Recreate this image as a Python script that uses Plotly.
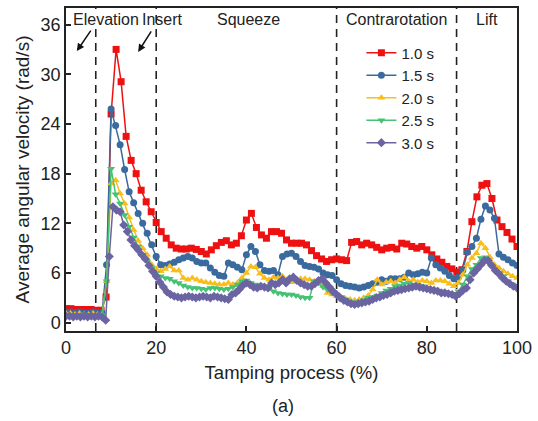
import numpy as np
import plotly.graph_objects as go

# ---- data ----
series_names = ["1.0 s", "1.5 s", "2.0 s", "2.5 s", "3.0 s"]

y_10 = [1.7, 1.7, 1.6, 1.6, 1.6, 1.6, 1.5, 1.5,
        3.1, 25.2, 33.0, 29.1, 22.5, 19.6, 18.0, 16.0, 14.6, 13.4, 12.1, 11.0,
        10.2, 9.4, 9.0, 8.9, 8.9, 9.0, 8.85, 8.6, 8.3, 8.8,
        9.3, 9.7, 9.9, 9.4, 9.6, 10.5, 12.4, 13.2, 11.5, 10.6,
        10.2, 11.0, 11.0, 10.8, 10.0, 9.6, 9.6, 9.6, 9.4, 8.7,
        8.1, 7.7, 7.4, 7.6, 7.7, 7.6, 7.5, 9.7, 9.8, 9.4,
        9.6, 9.4, 9.1, 8.8, 9.0, 9.1, 8.9, 9.6, 9.5, 9.2,
        9.0, 9.2, 8.8, 8.2, 7.7, 7.3, 6.8, 6.5, 6.1, 6.4,
        8.6, 12.2, 15.2, 16.6, 16.8, 15.0, 12.4, 11.6, 10.9, 10.1, 9.2]

y_15 = [1.3, 1.3, 1.2, 1.3, 1.2, 1.2, 1.3, 1.2, 1.2,
        7.0, 25.8, 23.8, 21.5, 18.5, 15.8, 14.5, 13.2, 12.0, 10.8, 9.4,
        8.0, 7.0, 6.9, 7.1, 7.3, 7.6, 7.8, 8.0, 7.8, 7.4,
        7.2, 7.2, 6.6, 6.1, 5.7, 5.6, 7.2, 7.0, 6.7, 6.4,
        8.2, 9.2, 8.6, 7.0, 6.3, 6.2, 6.3, 5.8, 8.0, 8.3,
        8.4, 8.0, 7.4, 6.9, 6.8, 6.7, 6.5, 6.0, 5.8, 5.7,
        5.2, 4.7, 4.5, 4.4, 4.3, 4.2, 4.3, 4.5, 4.7, 4.9,
        5.2, 5.0, 5.3, 5.3, 5.3, 5.5, 6.0, 5.8, 5.9, 6.1,
        6.0, 7.8, 7.0, 6.6, 6.2, 5.7, 5.3, 5.5, 6.4, 8.5,
        9.2, 10.2, 12.5, 14.1, 13.6, 12.6, 8.3, 7.9, 7.6, 7.2, 6.9]

y_20 = [1.1, 1.1, 1.0, 1.1, 1.0, 1.0, 1.1, 1.0, 1.0,
        5.0, 16.8, 17.2, 15.6, 14.4, 12.7, 11.2, 9.9, 9.0, 8.2, 7.0,
        6.5, 6.2, 6.5, 6.8, 6.3, 6.3, 5.4, 5.2, 5.4, 5.2,
        5.0, 4.9, 4.8, 4.7, 4.6, 4.6, 4.8, 4.6, 4.8, 5.4,
        6.0, 6.8, 6.7, 5.9, 5.4, 5.2, 5.5, 5.4, 5.6, 5.2,
        4.9, 5.0, 5.3, 5.3, 5.2, 5.0, 5.1, 4.4, 3.6, 3.4,
        3.2, 3.0, 2.9, 2.8, 2.7, 2.8, 3.0, 3.3, 4.0, 5.2,
        4.6, 4.9, 5.0, 4.8, 5.2, 5.5, 5.0, 5.2, 4.9, 5.1,
        5.0, 4.8, 5.1, 5.1, 5.0, 4.7, 4.4, 4.8, 5.8, 7.0,
        7.8, 8.4, 9.6, 9.0, 7.9, 7.0, 6.6, 6.2, 5.9, 5.6, 5.4]

y_25 = [0.9, 0.9, 0.9, 0.9, 0.9, 0.9, 0.9, 0.9, 0.9,
        5.0, 18.6, 15.5, 14.4, 13.0, 11.6, 10.3, 9.2, 8.2, 7.4, 6.6,
        6.0, 5.6, 5.4, 5.3, 5.0, 4.8, 4.5, 4.3, 4.2, 4.2,
        4.1, 4.0, 4.2, 4.2, 4.1, 4.0, 4.1, 4.3, 4.6, 5.0,
        5.1, 4.8, 4.6, 4.5, 4.4, 4.2, 3.8, 3.6, 3.5, 3.4,
        3.4, 3.3, 3.1, 3.0, 3.0, 5.0, 4.8, 4.3, 4.0, 3.6,
        3.4, 3.1, 2.8, 2.5, 2.4, 2.5, 2.7, 3.0, 3.1, 3.3,
        3.6, 3.9, 4.1, 4.4, 4.5, 4.7, 4.8, 4.6, 4.5, 4.4,
        4.2, 4.1, 4.0, 3.8, 3.7, 3.6, 3.5, 3.8, 4.6, 5.6,
        6.5, 7.0, 7.8, 7.9, 7.0, 6.5, 6.0, 5.6, 5.0, 4.6, 4.3]

y_30 = [0.8, 0.8, 0.7, 0.8, 0.7, 0.8, 0.7, 0.8, 0.7, 0.8,
        0.7, 0.3, 8.0, 14.0, 13.6, 13.4, 11.8, 11.0, 10.0, 9.3,
        8.8, 8.2, 7.7, 6.9, 6.2, 5.6, 4.9, 4.3, 3.7, 3.4,
        3.2, 3.1, 3.0, 3.1, 3.2, 3.1, 3.0, 3.1, 3.2, 3.1,
        3.0, 3.2, 3.1, 3.0, 2.9, 2.8, 3.4, 3.6, 4.0, 4.5,
        4.8, 4.6, 4.3, 4.2, 4.4, 4.3, 4.2, 4.8, 4.6, 4.8,
        5.2, 4.8, 5.3, 5.5, 5.1, 4.8, 4.6, 4.4, 4.4, 4.7,
        5.1, 5.3, 4.8, 4.3, 3.8, 3.4, 3.0, 2.7, 2.5, 2.3,
        2.2, 2.3, 2.4, 2.5, 2.6, 2.8, 3.0, 3.1, 3.3, 3.4,
        3.6, 3.8, 3.9, 4.0, 4.1, 4.2, 4.3, 4.4, 4.3, 4.2,
        4.1, 4.0, 3.9, 3.8, 3.6, 3.6, 3.5, 3.4, 3.2, 3.5,
        3.9, 4.2, 5.2, 6.0, 6.5, 7.0, 7.5, 7.5, 6.9, 6.3,
        5.9, 5.4, 5.0, 4.7, 4.4, 4.2]

all_values = [y_10, y_15, y_20, y_25, y_30]

phase_bounds = [6.6, 20, 60, 86.6]
phase_labels = ["Elevation", "Insert", "Squeeze", "Contrarotation", "Lift"]
phase_label_x = [8.9, 21.3, 40.4, 73.2, 93.3]
x_ticks = [0, 20, 40, 60, 80, 100]
y_ticks = [0, 6, 12, 18, 24, 30, 36]

# ---- styles ----
colors = ["#EE1111", "#3A6A9E", "#F7BE1E", "#45C274", "#6A64A2"]
symbols = ["square", "circle", "triangle-up", "triangle-down", "diamond"]
msizes = [7, 7, 7, 7, 7]
FONT = "Liberation Sans, Arial, sans-serif"

fig = go.Figure()
for name, vals, c, s, ms in zip(series_names, all_values, colors, symbols, msizes):
    xs = np.linspace(0, 100, len(vals))
    fig.add_trace(go.Scatter(
        x=xs, y=vals, name=name, mode="lines+markers",
        line=dict(color=c, width=1.5),
        marker=dict(symbol=s, size=ms, color=c, line=dict(width=0)),
    ))

shapes = []
for b in phase_bounds:
    shapes.append(dict(type="line", xref="x", yref="paper", x0=b, x1=b, y0=0, y1=1,
                       line=dict(color="#222222", width=1.6, dash="8px,6px"), layer="below"))

annotations = []
for lab, lx in zip(phase_labels, phase_label_x):
    annotations.append(dict(x=lx, y=36.6, xref="x", yref="y", text=lab, showarrow=False,
                            bgcolor="white" if lab == "Elevation" else "rgba(0,0,0,0)",
                            borderpad=0,
                            font=dict(family=FONT, size=16, color="#222222")))
# arrows
annotations.append(dict(x=2.4, y=32.8, xref="x", yref="y", text="", showarrow=True,
                        ax=15, ay=-22, arrowhead=2, arrowsize=1, arrowwidth=1.5, arrowcolor="#111111"))
annotations.append(dict(x=16.0, y=32.7, xref="x", yref="y", text="", showarrow=True,
                        ax=14, ay=-22, arrowhead=2, arrowsize=1, arrowwidth=1.5, arrowcolor="#111111"))
annotations.append(dict(x=0.481, y=-0.232, xref="paper", yref="paper", text="(a)", showarrow=False,
                        xanchor="center", yanchor="middle",
                        font=dict(family=FONT, size=18, color="#222222")))

fig.update_layout(
    width=538, height=421,
    margin=dict(l=66, r=17, t=6, b=90),
    paper_bgcolor="white", plot_bgcolor="white",
    font=dict(family=FONT, size=18, color="#222222"),
    showlegend=True,
    legend=dict(x=0.655, y=0.912, xanchor="left", yanchor="top",
                bgcolor="rgba(0,0,0,0)", font=dict(family=FONT, size=15, color="#222222"),
                tracegroupgap=0, itemwidth=30),
    shapes=shapes, annotations=annotations,
)
fig.update_xaxes(range=[0, 100], tickvals=x_ticks, ticks="inside", ticklen=5, tickwidth=1.5,
                 tickcolor="#222222", showline=True, linecolor="#222222", linewidth=1.5,
                 mirror=True, showgrid=False, zeroline=False,
                 title=dict(text="Tamping process (%)", font=dict(size=18.5), standoff=9),
                 tickfont=dict(size=18))
fig.update_yaxes(range=[-1, 38], tickvals=y_ticks, ticks="inside", ticklen=5, tickwidth=1.5,
                 tickcolor="#222222", showline=True, linecolor="#222222", linewidth=1.5,
                 mirror=True, showgrid=False, zeroline=False,
                 title=dict(text="Average angular velocity (rad/s)", font=dict(size=19), standoff=6),
                 tickfont=dict(size=18))

fig.write_html("out.html", config={"displayModeBar": False},
               post_script="document.body.style.margin='0';document.body.style.padding='0';")
